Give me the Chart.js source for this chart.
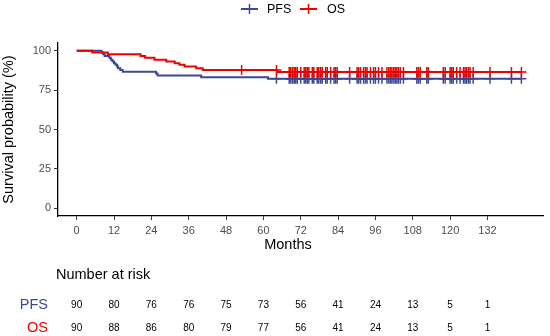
<!DOCTYPE html>
<html>
<head>
<meta charset="utf-8">
<script src="https://cdn.jsdelivr.net/npm/chart.js@4"></script>
<style>
html,body{margin:0;padding:0;background:#fff;}
#wrap{width:550px;height:336px;position:relative;}
</style>
</head>
<body>
<div id="wrap"><canvas id="c" width="550" height="336"></canvas></div>
<script>
// ---- data ----
const seriesNames = ['PFS', 'OS'];
const xTitle = 'Months';
const pfsTimes = [0, 8, 8.5, 9, 10.5, 11, 11.5, 12, 12.5, 13, 13.3, 14, 14.8, 25.5, 26, 40, 61.5, 143];
const pfsSurv  = [100, 98.9, 97.8, 96.7, 95.6, 94.4, 93.3, 92.2, 91.1, 90.0, 88.9, 87.8, 86.7, 85.6, 84.4, 83.3, 82.2, 82.2];
const osTimes  = [0, 5, 10, 20.5, 22, 25, 28.8, 31.5, 33, 34.7, 38.4, 40.5, 64.5, 143];
const osSurv   = [100, 98.9, 97.8, 96.7, 95.6, 94.4, 93.3, 92.2, 91.1, 90.0, 88.9, 87.8, 86.6, 86.6];
const sharedCensor = [64.2, 68.3, 68.8, 69.4, 69.9, 70.4, 70.9, 72.0, 73.1, 73.6, 74.1, 74.6, 75.7, 76.2, 77.3, 77.8, 78.4, 78.9, 80.0, 80.5, 81.6, 82.7, 83.2, 83.7, 87.7, 90.1, 90.6, 91.2, 92.2, 92.8, 93.3, 94.4, 95.4, 96.0, 97.0, 98.1, 99.7, 100.3, 100.8, 101.3, 101.9, 102.4, 102.9, 103.4, 104.0, 105.0, 109.3, 109.8, 110.4, 112.5, 113.0, 117.8, 118.4, 120.0, 120.5, 121.0, 122.1, 123.2, 124.3, 124.8, 125.3, 125.9, 126.4, 127.4, 132.8, 139.7, 142.9];
const pfsCensor = sharedCensor;
const osCensor = [53].concat(sharedCensor);
const xTicks = [0, 12, 24, 36, 48, 60, 72, 84, 96, 108, 120, 132];
const yTicks = [0, 25, 50, 75, 100];
const riskPFS = [90, 80, 76, 76, 75, 73, 56, 41, 24, 13, 5, 1];
const riskOS  = [90, 88, 86, 80, 79, 77, 56, 41, 24, 13, 5, 1];

// ---- styling ----
const BLUE = '#3B4992', RED = '#EE0000';
const FONT = "'Liberation Sans', Arial, Helvetica, sans-serif";

function curve(times, surv) { return times.map((t, i) => ({x: t, y: surv[i]})); }
function survAt(times, surv, t) {
  let v = surv[0];
  for (let i = 0; i < times.length; i++) if (times[i] <= t) v = surv[i];
  return v;
}
function censorPts(cens, times, surv) { return cens.map(t => ({x: t, y: survAt(times, surv, t)})); }

const extras = {
  id: 'extras',
  afterDraw(chart) {
    const ctx = chart.ctx;
    const xs = chart.scales.x;
    ctx.save();
    // legend
    const ly = 9;
    function sym(x0, x1, col) {
      ctx.strokeStyle = col; ctx.lineWidth = 2;
      ctx.beginPath(); ctx.moveTo(x0, ly); ctx.lineTo(x1, ly); ctx.stroke();
      ctx.lineWidth = 1.5;
      const cx = (x0 + x1) / 2;
      ctx.beginPath(); ctx.moveTo(cx, ly - 5); ctx.lineTo(cx, ly + 5); ctx.stroke();
    }
    ctx.font = '12.5px ' + FONT;
    ctx.fillStyle = '#000';
    ctx.textBaseline = 'middle';
    ctx.textAlign = 'left';
    sym(241, 258, BLUE);
    ctx.fillText(seriesNames[0], 267, ly + 0.5);
    sym(300, 317, RED);
    ctx.fillText(seriesNames[1], 327, ly + 0.5);

    // x axis title
    ctx.font = '14.5px ' + FONT;
    ctx.textAlign = 'center';
    ctx.fillStyle = '#000';
    ctx.fillText(xTitle, 288, 245);

    // risk table
    ctx.textAlign = 'left';
    ctx.fillText('Number at risk', 56, 275);
    ctx.textAlign = 'right';
    ctx.fillStyle = BLUE;
    ctx.fillText(seriesNames[0], 48, 305);
    ctx.fillStyle = RED;
    ctx.fillText(seriesNames[1], 48, 328);
    ctx.font = '10px ' + FONT;
    ctx.fillStyle = '#000';
    ctx.textAlign = 'center';
    xTicks.forEach((t, i) => {
      const px = xs.getPixelForValue(t);
      ctx.fillText(String(riskPFS[i]), px, 305);
      ctx.fillText(String(riskOS[i]), px, 328);
    });
    ctx.restore();
  }
};

new Chart(document.getElementById('c'), {
  type: 'line',
  data: {
    datasets: [
      {label: 'OS', data: curve(osTimes, osSurv), borderColor: RED, borderWidth: 2, pointRadius: 0, stepped: true, fill: false, order: 1},
      {label: 'PFS', data: curve(pfsTimes, pfsSurv), borderColor: BLUE, borderWidth: 2, pointRadius: 0, stepped: true, fill: false, order: 3},
      {label: 'OS censored', type: 'scatter', data: censorPts(osCensor, osTimes, osSurv), showLine: false, pointStyle: 'cross', pointRadius: 5, pointBorderWidth: 1.5, borderColor: RED, backgroundColor: RED, order: 0},
      {label: 'PFS censored', type: 'scatter', data: censorPts(pfsCensor, pfsTimes, pfsSurv), showLine: false, pointStyle: 'cross', pointRadius: 5, pointBorderWidth: 1.5, borderColor: BLUE, backgroundColor: BLUE, order: 2}
    ]
  },
  options: {
    responsive: false,
    animation: false,
    events: [],
    layout: {padding: {top: 43, right: 4.5, bottom: 80, left: 0}},
    plugins: {legend: {display: false}, tooltip: {enabled: false}, title: {display: false}},
    scales: {
      x: {
        type: 'linear', min: -6, max: 150,
        afterBuildTicks: s => { s.ticks = xTicks.map(v => ({value: v})); },
        afterFit: s => { s.height = 40; },
        ticks: {color: '#4D4D4D', font: {family: FONT, size: 11}, padding: 4, maxRotation: 0, autoSkip: false},
        grid: {drawOnChartArea: false, drawTicks: true, tickLength: 4, color: '#333333', lineWidth: 1},
        border: {display: true, color: '#000', width: 1.3},
        title: {display: false}
      },
      y: {
        type: 'linear', min: -5, max: 105,
        afterBuildTicks: s => { s.ticks = yTicks.map(v => ({value: v})); },
        afterFit: s => { s.width = 58; },
        ticks: {color: '#4D4D4D', font: {family: FONT, size: 11}, padding: 3},
        grid: {drawOnChartArea: false, drawTicks: true, tickLength: 4, color: '#333333', lineWidth: 1},
        border: {display: true, color: '#000', width: 1.3},
        title: {display: true, text: 'Survival probability (%)', color: '#000', font: {family: FONT, size: 14.5}, padding: {top: 0, bottom: 0}}
      }
    }
  },
  plugins: [extras]
});
</script>
</body>
</html>
